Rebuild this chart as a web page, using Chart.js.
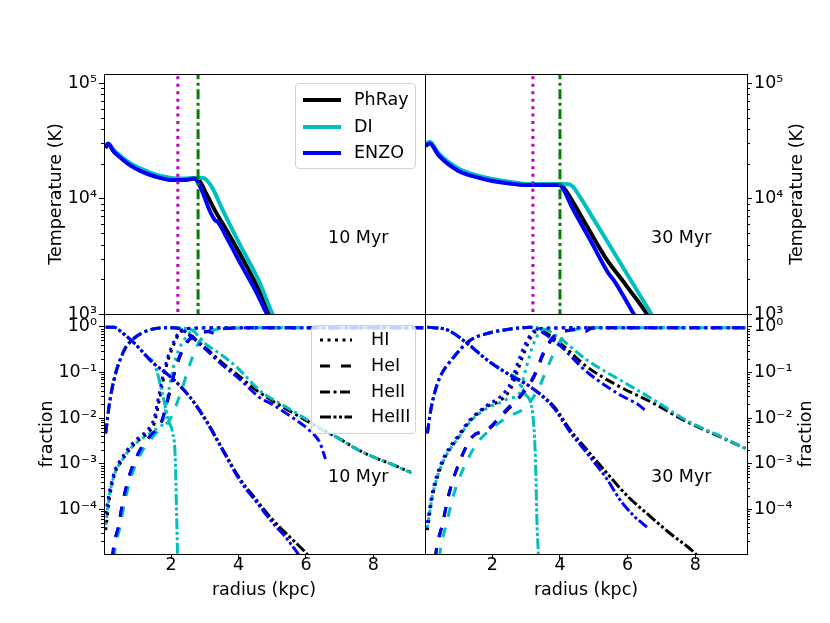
<!DOCTYPE html>
<html>
<head>
<meta charset="utf-8">
<script src="https://cdn.jsdelivr.net/npm/chart.js@4.4.1/dist/chart.umd.min.js"></script>
<style>
  body { margin: 0; background: #fff; }
  #fig { position: relative; width: 830px; height: 623px; background: #fff;
         font-family: 'DejaVu Sans', sans-serif; font-size: 17.5px; color: #000; }
  #fig canvas { position: absolute; left: 0; top: 0; }
  .txt { position: absolute; white-space: nowrap; line-height: 1; }
  .rot { transform: translate(-50%, -50%) rotate(-90deg); }
  .ctr { transform: translate(-50%, -50%); }
  .mid { transform: translateY(-50%); }
  .legend { position: absolute; background: rgba(255, 255, 255, 0.8); border: 1px solid #d3d3d3;
            border-radius: 4px; box-sizing: border-box; }
  .legend svg, .legend span { position: absolute; }
  .legend span { line-height: 1; transform: translateY(-50%); }
</style>
</head>
<body>
<div id="fig">
  <canvas id="tl" width="830" height="623"></canvas>
  <canvas id="tr" width="830" height="623"></canvas>
  <canvas id="bl" width="830" height="623"></canvas>
  <canvas id="br" width="830" height="623"></canvas>

  <div class="txt rot" style="left:56px;top:194px">Temperature (K)</div>
  <div class="txt rot" style="left:47px;top:434px">fraction</div>
  <div class="txt rot" style="left:797px;top:194px">Temperature (K)</div>
  <div class="txt rot" style="left:806px;top:434px">fraction</div>
  <div class="txt ctr" style="left:264px;top:590px">radius (kpc)</div>
  <div class="txt ctr" style="left:586px;top:590px">radius (kpc)</div>

  <div class="txt mid" style="left:328px;top:238px">10 Myr</div>
  <div class="txt mid" style="left:328px;top:477px">10 Myr</div>
  <div class="txt mid" style="left:651px;top:238px">30 Myr</div>
  <div class="txt mid" style="left:651px;top:477px">30 Myr</div>
</div>

<script>
// axes
const xMin = 0.01, xMax = 9.53;
const tMin = 1e3, tMax = 1.2e5;
const fMin = 1.05e-5, fMax = 1.9;
const radiusTicks = [2, 4, 6, 8];
const tempTicks = [1e3, 1e4, 1e5];
const fracTicks = [1, 1e-1, 1e-2, 1e-3, 1e-4];

// legend names
const codes = ['PhRay', 'DI', 'ENZO'];
const species = ['HI', 'HeI', 'HeII', 'HeIII'];

// vertical marker radii, [10 Myr, 30 Myr]
const markerDotted = [2.2, 3.2];
const markerDashDot = [2.8, 4.0];

// temperature, 10 Myr
const rT10ph = [0.05, 0.13, 0.3, 0.5, 0.8, 1.1, 1.5, 2.0, 2.4, 2.7, 2.85, 3.0, 3.3, 3.65, 4.0, 4.5, 4.94, 5.3];
const T10ph = [27500, 29500, 25700, 22900, 19500, 17600, 15800, 14600, 14600, 15000, 14100, 11700, 7900, 5300, 3500, 1860, 1000, 630];
const rT10di = [0.05, 0.13, 0.3, 0.5, 0.8, 1.1, 1.5, 2.0, 2.4, 2.7, 2.95, 3.1, 3.25, 3.5, 3.8, 4.1, 4.6, 5.01, 5.4];
const T10di = [28000, 30000, 26300, 23400, 20200, 18200, 16300, 15100, 14900, 15100, 15100, 14000, 12000, 8300, 5500, 3700, 1950, 1000, 620];
const rT10en = [0.05, 0.13, 0.3, 0.5, 0.8, 1.1, 1.5, 2.0, 2.4, 2.7, 2.8, 2.95, 3.15, 3.3, 3.38, 3.7, 4.1, 4.5, 4.84, 5.2];
const T10en = [27500, 29800, 25500, 22600, 19300, 17300, 15600, 14500, 14500, 14900, 13800, 11000, 7800, 6500, 6300, 4300, 2600, 1600, 1000, 630];

// temperature, 30 Myr
const rT30ph = [0.03, 0.15, 0.42, 1.0, 1.5, 2.0, 2.5, 3.0, 3.5, 3.96, 4.1, 4.35, 4.8, 5.34, 5.95, 6.57, 6.9];
const T30ph = [29000, 30500, 23800, 17600, 15600, 14400, 13700, 13200, 13200, 13200, 12500, 9700, 5750, 3100, 1780, 1000, 680];
const rT30di = [0.03, 0.15, 0.42, 1.0, 1.5, 2.0, 2.5, 3.0, 3.5, 4.0, 4.26, 4.4, 4.56, 5.0, 5.5, 6.1, 6.7, 7.0];
const T30di = [29500, 31000, 24500, 18200, 16000, 14800, 14000, 13400, 13400, 13400, 13300, 12500, 10700, 6600, 3800, 1950, 1000, 700];
const rT30en = [0.03, 0.15, 0.42, 1.0, 1.5, 2.0, 2.5, 3.0, 3.5, 3.96, 4.06, 4.35, 4.9, 5.44, 5.6, 6.18, 6.5];
const T30en = [28500, 30000, 23500, 17300, 15400, 14200, 13500, 13100, 13100, 13100, 12600, 8500, 4350, 2240, 1950, 1000, 680];

// species fractions, 10 Myr
const rHI10ph = [0.06, 0.18, 0.36, 0.5, 0.76, 0.98, 1.2, 1.35, 1.5, 1.65, 1.85, 2.05, 2.25, 2.45, 2.7, 3.5, 5, 7, 9.5];
const fHI10ph = [3.5e-5, 1.9e-4, 7e-4, 1.05e-3, 2.0e-3, 3.0e-3, 4.0e-3, 5.0e-3, 7.6e-3, 0.0245, 0.13, 0.36, 0.72, 0.89, 0.93, 0.95, 0.95, 0.95, 0.95];
const rHI10di = [0.06, 0.18, 0.36, 0.5, 0.76, 0.98, 1.2, 1.4, 1.6, 1.75, 1.95, 2.15, 2.45, 2.65, 2.9, 3.5, 5, 7, 9.5];
const fHI10di = [4.5e-5, 2.2e-4, 7e-4, 1.05e-3, 2.0e-3, 2.9e-3, 3.8e-3, 4.8e-3, 6.0e-3, 7.6e-3, 0.048, 0.22, 0.6, 0.85, 0.93, 0.95, 0.95, 0.95, 0.95];
const rHI10en = [0.06, 0.18, 0.36, 0.5, 0.76, 0.98, 1.2, 1.35, 1.5, 1.65, 1.85, 2.05, 2.25, 2.45, 2.7, 3.5, 5, 7, 9.5];
const fHI10en = [8e-5, 2.6e-4, 8e-4, 1.2e-3, 2.3e-3, 3.4e-3, 4.6e-3, 6.0e-3, 0.01, 0.035, 0.16, 0.42, 0.78, 0.9, 0.93, 0.95, 0.95, 0.95, 0.95];

const rHeI10ph = [0.22, 0.28, 0.43, 0.58, 0.78, 1.08, 1.4, 1.7, 1.9, 2.15, 2.45, 2.85, 3.1, 3.4, 3.7, 5, 7, 9.5];
const fHeI10ph = [3e-6, 1.2e-5, 4e-5, 1.6e-4, 6e-4, 2e-3, 4.2e-3, 7.6e-3, 0.0245, 0.13, 0.43, 0.71, 0.8, 0.88, 0.93, 0.95, 0.95, 0.95];
const rHeI10di = [0.27, 0.33, 0.48, 0.63, 0.83, 1.13, 1.45, 1.75, 1.95, 2.25, 2.55, 2.75, 3.04, 3.3, 3.5, 5, 7, 9.5];
const fHeI10di = [3e-6, 1.2e-5, 4e-5, 1.5e-4, 5.5e-4, 1.8e-3, 3.8e-3, 6.5e-3, 8.9e-3, 0.03, 0.145, 0.36, 0.7, 0.85, 0.92, 0.95, 0.95, 0.95];
const rHeI10en = [0.22, 0.28, 0.43, 0.58, 0.78, 1.08, 1.4, 1.7, 1.9, 2.15, 2.45, 2.85, 3.1, 3.3, 3.45, 3.7, 5, 7, 9.5];
const fHeI10en = [3e-6, 1.2e-5, 4e-5, 1.6e-4, 6e-4, 2e-3, 4.2e-3, 7.6e-3, 0.026, 0.14, 0.45, 0.72, 0.78, 0.7, 0.85, 0.93, 0.95, 0.95, 0.95];

const rHeII10ph = [0.06, 0.16, 0.3, 0.6, 0.88, 1.28, 1.55, 2.05, 2.3, 2.45, 3.0, 3.5, 4.0, 4.5, 5.0, 5.5, 6.0, 6.5, 7.0, 7.5, 8.0, 8.5, 9.1];
const fHeII10ph = [4.6e-3, 0.018, 0.066, 0.295, 0.54, 0.81, 0.91, 0.95, 0.88, 0.76, 0.355, 0.166, 0.085, 0.042, 0.024, 0.0145, 8.9e-3, 5.5e-3, 3.5e-3, 2.1e-3, 1.4e-3, 1.0e-3, 6.5e-4];
const rHeII10di = [0.06, 0.16, 0.3, 0.6, 0.88, 1.28, 1.55, 2.05, 2.4, 2.66, 2.96, 3.5, 3.95, 4.63, 5.0, 5.5, 6.0, 6.5, 7.0, 7.5, 8.0, 8.5, 9.14];
const fHeII10di = [4.6e-3, 0.018, 0.066, 0.295, 0.54, 0.81, 0.91, 0.95, 0.93, 0.81, 0.46, 0.24, 0.13, 0.04, 0.026, 0.016, 9.5e-3, 5.6e-3, 3.5e-3, 2.1e-3, 1.4e-3, 1.0e-3, 6.2e-4];
const rHeII10en = [0.06, 0.16, 0.3, 0.6, 0.88, 1.28, 1.55, 2.05, 2.3, 2.45, 3.0, 3.5, 4.0, 4.63, 5.0, 5.5, 6.12, 6.41, 6.58];
const fHeII10en = [4.6e-3, 0.018, 0.066, 0.295, 0.54, 0.81, 0.91, 0.95, 0.88, 0.74, 0.33, 0.15, 0.075, 0.028, 0.02, 0.0115, 5.2e-3, 2.9e-3, 1.26e-3];

const rHeIII10ph = [0.06, 0.3, 0.6, 0.88, 1.45, 2.0, 2.55, 3.04, 3.54, 4.03, 4.53, 5.02, 5.62, 5.97, 6.3];
const fHeIII10ph = [0.98, 0.97, 0.69, 0.46, 0.165, 0.078, 0.0295, 8.9e-3, 2e-3, 4.8e-4, 1.6e-4, 5.8e-5, 2.1e-5, 1.17e-5, 6e-6];
const rHeIII10di = [0.06, 0.3, 0.6, 0.88, 1.3, 1.51, 1.77, 1.92, 2.05, 2.12, 2.16, 2.19, 2.21];
const fHeIII10di = [0.98, 0.97, 0.69, 0.46, 0.22, 0.15, 0.028, 8.7e-3, 4.6e-3, 1.5e-3, 1e-4, 1e-5, 1e-6];
const rHeIII10en = [0.06, 0.3, 0.6, 0.88, 1.45, 2.0, 2.55, 3.04, 3.54, 4.03, 4.53, 5.02, 5.45, 5.75, 6.0];
const fHeIII10en = [0.98, 0.97, 0.69, 0.46, 0.165, 0.078, 0.029, 8.5e-3, 1.9e-3, 4.4e-4, 1.45e-4, 5e-5, 2.2e-5, 1.1e-5, 6e-6];

// species fractions, 30 Myr
const rHI30ph = [0.08, 0.23, 0.52, 1.01, 1.36, 1.85, 2.25, 2.55, 2.75, 2.95, 3.18, 3.38, 3.6, 5, 7, 9.5];
const fHI30ph = [3.5e-5, 1.9e-4, 1e-3, 3.9e-3, 8.9e-3, 0.0178, 0.0245, 0.045, 0.11, 0.28, 0.66, 0.87, 0.93, 0.95, 0.95, 0.95];
const rHI30di = [0.08, 0.23, 0.52, 1.01, 1.36, 1.85, 2.25, 2.5, 2.78, 2.98, 3.18, 3.38, 3.6, 5, 7, 9.5];
const fHI30di = [4e-5, 2e-4, 1e-3, 3.8e-3, 8.5e-3, 0.0165, 0.022, 0.027, 0.033, 0.11, 0.35, 0.72, 0.9, 0.95, 0.95, 0.95];
const rHI30en = [0.08, 0.23, 0.52, 1.01, 1.36, 1.85, 2.25, 2.55, 2.75, 2.95, 3.18, 3.38, 3.6, 5, 7, 9.5];
const fHI30en = [5e-5, 2.4e-4, 1.15e-3, 4.3e-3, 9.5e-3, 0.019, 0.03, 0.06, 0.16, 0.38, 0.75, 0.9, 0.93, 0.95, 0.95, 0.95];

const rHeI30ph = [0.26, 0.33, 0.53, 0.72, 1.01, 1.41, 1.85, 2.44, 2.83, 3.23, 3.52, 3.82, 4.31, 4.7, 5.2, 7, 9.5];
const fHeI30ph = [3e-6, 1.07e-5, 4.9e-5, 2.2e-4, 1e-3, 3.9e-3, 5.4e-3, 0.0148, 0.0295, 0.079, 0.26, 0.6, 0.85, 0.93, 0.95, 0.95, 0.95];
const rHeI30di = [0.38, 0.45, 0.65, 0.85, 1.15, 1.55, 2.0, 2.5, 2.98, 3.38, 3.67, 3.96, 4.35, 4.8, 5.2, 7, 9.5];
const fHeI30di = [3e-6, 1.07e-5, 5e-5, 2e-4, 8e-4, 2.8e-3, 6e-3, 0.011, 0.017, 0.047, 0.15, 0.42, 0.8, 0.93, 0.95, 0.95, 0.95];
const rHeI30en = [0.26, 0.33, 0.53, 0.72, 1.01, 1.41, 1.85, 2.44, 2.83, 3.23, 3.52, 3.82, 4.31, 4.6, 4.75, 4.9, 5.2, 7, 9.5];
const fHeI30en = [3e-6, 1.07e-5, 4.9e-5, 2.2e-4, 1e-3, 3.9e-3, 5.6e-3, 0.016, 0.031, 0.085, 0.28, 0.62, 0.85, 0.88, 0.78, 0.9, 0.95, 0.95, 0.95];

const rHeII30ph = [0.08, 0.18, 0.38, 0.87, 1.36, 1.85, 2.44, 3.13, 3.42, 4.01, 4.8, 5.78, 6.77, 7.75, 8.73, 9.52];
const fHeII30ph = [4.6e-3, 0.0148, 0.0575, 0.22, 0.51, 0.71, 0.87, 0.97, 0.85, 0.43, 0.132, 0.048, 0.021, 8.3e-3, 3.9e-3, 2.1e-3];
const rHeII30di = [0.08, 0.18, 0.38, 0.87, 1.36, 1.85, 2.44, 3.13, 3.6, 4.01, 4.8, 5.78, 6.77, 7.75, 8.73, 9.52];
const fHeII30di = [4.6e-3, 0.0148, 0.0575, 0.22, 0.51, 0.71, 0.87, 0.97, 0.85, 0.55, 0.186, 0.068, 0.025, 8.8e-3, 4e-3, 2.1e-3];
const rHeII30en = [0.08, 0.18, 0.38, 0.87, 1.36, 1.85, 2.44, 3.13, 3.4, 4.01, 4.8, 5.78, 6.3, 6.57];
const fHeII30en = [4.6e-3, 0.0148, 0.0575, 0.22, 0.51, 0.71, 0.87, 0.97, 0.82, 0.38, 0.102, 0.032, 0.02, 0.0138];

const rHeIII30ph = [0.08, 0.67, 1.26, 1.85, 2.44, 3.13, 3.82, 4.31, 4.8, 5.39, 5.98, 6.57, 7.26, 8.0, 8.2];
const fHeIII30ph = [0.98, 0.85, 0.43, 0.186, 0.095, 0.048, 0.0178, 5.4e-3, 2e-3, 6.2e-4, 2e-4, 8.1e-5, 2.95e-5, 1.07e-5, 7e-6];
const rHeIII30di = [0.08, 0.67, 1.26, 1.85, 2.44, 2.69, 2.98, 3.13, 3.22, 3.28, 3.32, 3.36, 3.39];
const fHeIII30di = [0.98, 0.85, 0.43, 0.186, 0.095, 0.078, 0.033, 0.022, 8e-3, 1e-3, 5e-5, 1e-5, 1e-6];
const rHeIII30en = [0.08, 0.67, 1.26, 1.85, 2.44, 3.13, 3.82, 4.31, 4.8, 5.39, 5.78, 6.2, 6.57];
const fHeIII30en = [0.98, 0.85, 0.43, 0.186, 0.095, 0.048, 0.0165, 4.8e-3, 1.7e-3, 4.6e-4, 1.6e-4, 7e-5, 4.1e-5];

// styles
const BLACK = '#000000', CYAN = '#00bfbf', BLUE = '#0000ff', MAGENTA = '#bf00bf', GREEN = '#008000';
const codeColor = [BLACK, CYAN, BLUE];
const codeOrder = [3, 2, 1];
const DOTTED = [3, 4.5], DASHED = [10, 11], DASHDOT = [10, 3.5, 3, 3.5], DASHDOTDOT = [11, 2.5, 3, 2.5, 3, 2.5];
const speciesDash = [DOTTED, DASHED, DASHDOT, DASHDOTDOT];

Chart.defaults.font.family = "'DejaVu Sans', sans-serif";
Chart.defaults.font.size = 17.5;
Chart.defaults.color = '#000';

const SUP = { '-': '\u207b', '0': '\u2070', '1': '\u00b9', '2': '\u00b2', '3': '\u00b3',
              '4': '\u2074', '5': '\u2075', '6': '\u2076', '7': '\u2077', '8': '\u2078', '9': '\u2079' };
function powLabel(v) {
  const e = Math.round(Math.log10(v));
  return '10' + String(e).split('').map(c => SUP[c]).join('');
}

function line(r, v, color, dash, width, order) {
  return {
    data: r.map((x, i) => ({ x: x, y: v[i] })),
    borderColor: color,
    borderDash: dash,
    borderWidth: width,
    order: order
  };
}

function marker(x, color, dash) {
  return line([x, x], [tMin * 0.9, tMax * 1.1], color, dash, 3, 0);
}

// box around each panel plus the minor ticks of the log axis
const frame = {
  id: 'frame',
  afterDraw(chart) {
    const { ctx, chartArea: a } = chart;
    const y = chart.scales.y;
    const right = y.options.position === 'right';
    const x0 = right ? a.right : a.left;
    ctx.save();
    ctx.strokeStyle = '#000';
    ctx.lineWidth = 1;
    ctx.beginPath();
    const lo = Math.floor(Math.log10(y.min)), hi = Math.ceil(Math.log10(y.max));
    for (let d = lo; d <= hi; d++) {
      for (let m = 2; m < 10; m++) {
        const v = m * Math.pow(10, d);
        if (v <= y.min || v >= y.max) continue;
        const py = Math.round(y.getPixelForValue(v)) + 0.5;
        ctx.moveTo(x0, py);
        ctx.lineTo(x0 + (right ? 3 : -3), py);
      }
    }
    ctx.stroke();
    ctx.strokeRect(Math.round(a.left) + 0.5, Math.round(a.top) + 0.5,
                   Math.round(a.right - a.left), Math.round(a.bottom - a.top));
    ctx.restore();
  }
};

function panel(id, box, yRight, showX, yMin, yMax, yTicks, datasets) {
  const [l, t, r, b] = box;
  const yW = 60, xH = showX ? 40 : 0;
  new Chart(document.getElementById(id), {
    type: 'line',
    data: { datasets: datasets },
    options: {
      responsive: false,
      animation: false,
      events: [],
      layout: { padding: {
        left: yRight ? l : l - yW,
        right: yRight ? 830 - r - yW : 830 - r,
        top: t,
        bottom: 623 - b - xH
      } },
      plugins: { legend: { display: false }, tooltip: { enabled: false } },
      elements: {
        point: { radius: 0 },
        line: { cubicInterpolationMode: 'monotone', fill: false, borderCapStyle: 'butt' }
      },
      scales: {
        x: {
          type: 'linear', min: xMin, max: xMax, display: showX,
          afterFit: s => { s.height = xH; },
          afterBuildTicks: s => { s.ticks = radiusTicks.map(v => ({ value: v })); },
          ticks: { padding: -4, maxRotation: 0, callback: v => String(v) },
          grid: { drawOnChartArea: false, tickLength: 5, tickColor: '#000', tickWidth: 1 },
          border: { display: false }
        },
        y: {
          type: 'logarithmic', min: yMin, max: yMax, position: yRight ? 'right' : 'left',
          afterFit: s => { s.width = yW; },
          afterBuildTicks: s => { s.ticks = yTicks.map(v => ({ value: v })); },
          ticks: { padding: 2, autoSkip: false, callback: v => powLabel(v) },
          grid: { drawOnChartArea: false, tickLength: 5, tickColor: '#000', tickWidth: 1 },
          border: { display: false }
        }
      }
    },
    plugins: [frame]
  });
}

function tempSets(k, rs, Ts) {
  const sets = rs.map((r, i) => line(r, Ts[i], codeColor[i], [], 4, codeOrder[i]));
  sets.push(marker(markerDotted[k], MAGENTA, DOTTED));
  sets.push(marker(markerDashDot[k], GREEN, DASHDOT));
  return sets;
}

function fracSets(table) {
  // table[species][code] = [radius, fraction]
  const sets = [];
  table.forEach((row, s) => row.forEach((pair, c) => {
    sets.push(line(pair[0], pair[1], codeColor[c], speciesDash[s], 3, codeOrder[c]));
  }));
  return sets;
}

panel('tl', [104, 74, 425, 314], false, false, tMin, tMax, tempTicks,
  tempSets(0, [rT10ph, rT10di, rT10en], [T10ph, T10di, T10en]));
panel('tr', [425, 74, 747, 314], true, false, tMin, tMax, tempTicks,
  tempSets(1, [rT30ph, rT30di, rT30en], [T30ph, T30di, T30en]));
panel('bl', [104, 314, 425, 554], false, true, fMin, fMax, fracTicks, fracSets([
  [[rHI10ph, fHI10ph], [rHI10di, fHI10di], [rHI10en, fHI10en]],
  [[rHeI10ph, fHeI10ph], [rHeI10di, fHeI10di], [rHeI10en, fHeI10en]],
  [[rHeII10ph, fHeII10ph], [rHeII10di, fHeII10di], [rHeII10en, fHeII10en]],
  [[rHeIII10ph, fHeIII10ph], [rHeIII10di, fHeIII10di], [rHeIII10en, fHeIII10en]]
]));
panel('br', [425, 314, 747, 554], true, true, fMin, fMax, fracTicks, fracSets([
  [[rHI30ph, fHI30ph], [rHI30di, fHI30di], [rHI30en, fHI30en]],
  [[rHeI30ph, fHeI30ph], [rHeI30di, fHeI30di], [rHeI30en, fHeI30en]],
  [[rHeII30ph, fHeII30ph], [rHeII30di, fHeII30di], [rHeII30en, fHeII30en]],
  [[rHeIII30ph, fHeIII30ph], [rHeIII30di, fHeIII30di], [rHeIII30en, fHeIII30en]]
]));

// legends
function legend(left, top, w, h, names, colors, dashes, rowY, sx, sw, tx, width) {
  const fig = document.getElementById('fig');
  const box = document.createElement('div');
  box.className = 'legend';
  Object.assign(box.style, { left: left + 'px', top: top + 'px', width: w + 'px', height: h + 'px' });
  names.forEach((name, i) => {
    const svg = document.createElementNS('http://www.w3.org/2000/svg', 'svg');
    svg.setAttribute('width', sw);
    svg.setAttribute('height', 10);
    svg.style.left = sx + 'px';
    svg.style.top = (rowY[i] - 5) + 'px';
    const ln = document.createElementNS('http://www.w3.org/2000/svg', 'line');
    ln.setAttribute('x1', 0); ln.setAttribute('y1', 5);
    ln.setAttribute('x2', sw); ln.setAttribute('y2', 5);
    ln.setAttribute('stroke', colors[i]);
    ln.setAttribute('stroke-width', width);
    if (dashes[i].length) ln.setAttribute('stroke-dasharray', dashes[i].join(' '));
    svg.appendChild(ln);
    box.appendChild(svg);
    const sp = document.createElement('span');
    sp.textContent = name;
    sp.style.left = tx + 'px';
    sp.style.top = rowY[i] + 'px';
    box.appendChild(sp);
  });
  fig.appendChild(box);
}

legend(295, 83, 121, 86, codes, codeColor, [[], [], []], [16, 43, 69], 6.5, 38, 58, 4);
legend(311, 325, 105, 109, species, [BLACK, BLACK, BLACK, BLACK], speciesDash, [14, 40, 65.5, 90.5], 7.5, 32, 59, 3);
</script>
</body>
</html>
